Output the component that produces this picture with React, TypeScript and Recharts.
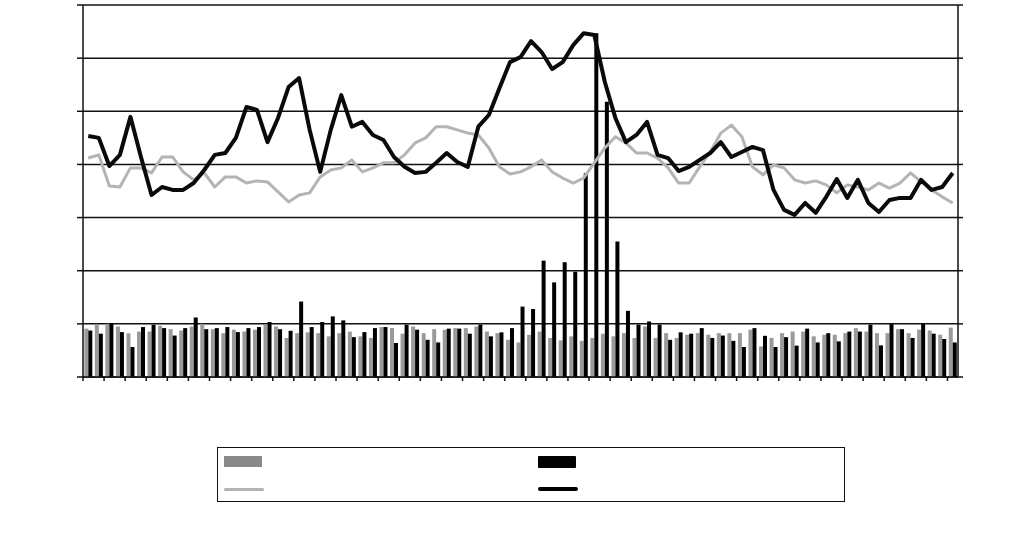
import React from "react";
import {
  ComposedChart,
  Bar,
  Line,
  XAxis,
  YAxis,
  CartesianGrid,
} from "recharts";

// 83 periods, no labels shown on the axis
const periods = Array.from({ length: 83 }, (_, i) => `P${i + 1}`);

// bars (lower band)
const grayBars = [
  18.2, 19.7, 20.0, 19.0, 16.5, 17.1, 17.1, 19.3, 18.0, 17.5,
  19.0, 20.0, 18.0, 16.5, 17.8, 17.1, 17.8, 19.7, 19.0, 14.7,
  16.5, 16.8, 16.5, 15.3, 16.5, 17.1, 15.3, 14.7, 18.8, 18.4,
  16.3, 19.0, 16.5, 18.0, 17.8, 18.4, 18.4, 19.0, 17.1, 16.5,
  14.0, 13.0, 15.9, 17.1, 14.7, 13.8, 15.3, 13.6, 14.7, 16.3,
  15.3, 16.5, 14.7, 19.0, 14.7, 16.5, 14.7, 15.9, 16.5, 15.9,
  16.5, 16.5, 16.5, 17.8, 11.5, 14.7, 16.5, 17.1, 17.1, 15.3,
  15.9, 15.9, 16.5, 18.4, 17.1, 16.5, 16.5, 18.0, 16.5, 17.8,
  17.5, 15.9, 18.6,
];
const blackBars = [
  17.5, 16.3, 20.0, 16.9, 11.3, 18.8, 19.7, 18.4, 15.6, 18.4,
  22.4, 18.0, 18.4, 18.8, 16.9, 18.4, 18.8, 20.7, 18.0, 17.4,
  28.4, 18.8, 20.7, 22.8, 21.3, 15.0, 16.9, 18.4, 18.8, 12.8,
  19.7, 17.8, 14.0, 13.0, 18.2, 18.2, 16.3, 19.7, 15.3, 16.8,
  18.4, 26.5, 25.6, 43.8, 35.6, 43.2, 39.6, 76.7, 129.4, 103.6,
  51.0, 24.9, 19.7, 20.9, 19.7, 14.0, 16.8, 16.3, 18.4, 14.7,
  15.6, 13.6, 11.3, 18.4, 15.5, 11.3, 15.0, 11.8, 18.2, 13.0,
  16.5, 13.4, 17.1, 17.1, 19.7, 11.9, 19.9, 18.0, 14.7, 19.9,
  16.3, 14.3, 13.0,
];

// lines (upper band)
const grayLine = [
  82.4, 83.6, 71.9, 71.5, 78.7, 78.7, 76.8, 82.8, 82.8, 77.2,
  74.2, 76.8, 71.5, 75.3, 75.3, 73.0, 73.8, 73.4, 69.7, 65.9,
  68.5, 69.3, 75.3, 77.9, 78.7, 81.7, 77.2, 78.7, 80.6, 80.6,
  83.6, 88.1, 90.0, 94.2, 94.2, 93.0, 91.8, 91.1, 86.2, 79.1,
  76.4, 77.2, 79.1, 81.7, 77.2, 74.9, 73.0, 74.9, 80.6, 86.2,
  90.4, 88.1, 84.3, 84.3, 82.4, 78.7, 73.0, 73.0, 79.1, 84.7,
  91.8, 94.8, 90.4, 79.1, 76.1, 79.8, 78.7, 74.2, 73.0, 73.8,
  72.3, 69.3, 72.3, 71.5, 70.4, 73.0, 71.1, 73.0, 76.8, 73.4,
  70.4, 67.8, 65.5,
];
const blackLine = [
  90.7, 90.0, 79.4, 83.6, 97.9, 82.8, 68.5, 71.5, 70.4, 70.4,
  73.0, 77.9, 83.6, 84.3, 90.0, 101.6, 100.5, 88.4, 97.5, 109.1,
  112.5, 93.0, 77.2, 93.0, 106.1, 94.2, 96.0, 91.1, 89.2, 82.8,
  79.1, 76.8, 77.2, 80.6, 84.3, 80.9, 79.1, 94.2, 98.6, 108.7,
  118.5, 120.4, 126.4, 122.3, 115.9, 118.5, 124.9, 129.4, 128.7, 111.0,
  97.5, 88.4, 91.1, 96.0, 83.6, 82.4, 77.5, 79.1, 81.7, 84.3,
  88.4, 82.8, 84.7, 86.6, 85.4, 70.4, 62.9, 61.0, 65.5, 61.8,
  67.8, 74.5, 67.4, 74.2, 65.5, 62.1, 66.6, 67.4, 67.4, 74.2,
  70.4, 71.5, 76.8,
];

const yTicks = [0, 20, 40, 60, 80, 100, 120, 140];

const data = periods.map((p, i) => ({
  period: p,
  grayBar: grayBars[i],
  blackBar: blackBars[i],
  grayLine: grayLine[i],
  blackLine: blackLine[i],
}));

const GRAY_BAR = "#9a9a9a";
const GRAY_LINE = "#b4b4b4";
const blank = () => "";

// tick mark between categories, every 2nd one (no text)
function MarkTick(props: any) {
  const { x, y, index, payload } = props;
  if (index % 2 !== 0) return <g />;
  const bx = x - (payload?.offset ?? 0);
  return <line x1={bx} x2={bx} y1={y - 8} y2={y - 4} stroke="#111" strokeWidth={1.5} />;
}

export default function App() {
  return (
    <div style={{ position: "absolute", left: 0, top: 0, width: 1024, height: 557, background: "#fff" }}>
      <ComposedChart
        width={1024}
        height={557}
        data={data}
        margin={{ top: 5, right: 26, bottom: 150, left: 43 }}
        barCategoryGap={1.3}
        barGap={0}
      >
        <CartesianGrid vertical={false} stroke="#111" strokeWidth={1.5} />
        <XAxis
          dataKey="period"
          height={30}
          interval={0}
          tickLine={false}
          tick={<MarkTick />}
          axisLine={{ stroke: "#111", strokeWidth: 1.5 }}
        />
        <YAxis
          domain={[0, 140]}
          ticks={yTicks}
          width={40}
          tickSize={6}
          tickFormatter={blank}
          axisLine={{ stroke: "#111", strokeWidth: 1.5 }}
          tickLine={{ stroke: "#111", strokeWidth: 1.5 }}
        />
        <YAxis
          yAxisId="right"
          orientation="right"
          domain={[0, 140]}
          ticks={yTicks}
          width={40}
          tickSize={5}
          tickFormatter={blank}
          axisLine={{ stroke: "#111", strokeWidth: 1.5 }}
          tickLine={{ stroke: "#111", strokeWidth: 1.5 }}
        />

        <Bar dataKey="grayBar" fill={GRAY_BAR} isAnimationActive={false} />
        <Bar dataKey="blackBar" fill="#000" isAnimationActive={false} />

        <Line
          type="linear"
          dataKey="grayLine"
          stroke={GRAY_LINE}
          strokeWidth={3}
          dot={false}
          strokeLinejoin="round"
          isAnimationActive={false}
        />
        <Line
          type="linear"
          dataKey="blackLine"
          stroke="#0a0a0a"
          strokeWidth={4}
          dot={false}
          strokeLinejoin="round"
          isAnimationActive={false}
        />
        <Line
          yAxisId="right"
          dataKey="blackLine"
          stroke="none"
          dot={false}
          legendType="none"
          isAnimationActive={false}
        />
      </ComposedChart>

      {/* legend box, no labels */}
      <div
        style={{
          position: "absolute",
          left: 217,
          top: 447,
          width: 626,
          height: 53,
          border: "1.5px solid #111",
        }}
      >
        <div style={{ position: "absolute", left: 6, top: 8, width: 38, height: 11, background: "#8a8a8a" }} />
        <div style={{ position: "absolute", left: 320, top: 8, width: 38, height: 12, background: "#000", borderRadius: 1 }} />
        <div style={{ position: "absolute", left: 6, top: 40, width: 40, height: 3, background: GRAY_LINE, borderRadius: 2 }} />
        <div style={{ position: "absolute", left: 320, top: 39, width: 40, height: 4, background: "#000", borderRadius: 2 }} />
      </div>
    </div>
  );
}
